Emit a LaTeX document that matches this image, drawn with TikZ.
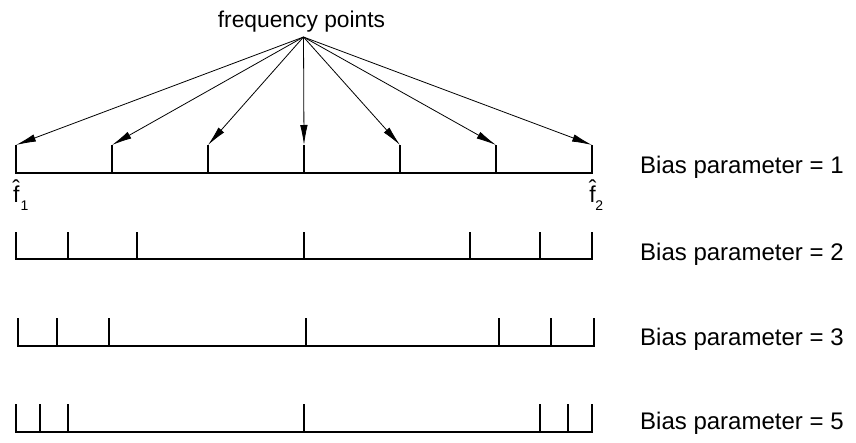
\documentclass[tikz,border=0pt]{standalone}
\usepackage{fontspec}
\setmainfont{Liberation Sans}
\usetikzlibrary{arrows.meta}
\newcommand{\hatglyph}{\raisebox{-13.2pt}[3.4pt][0pt]{ˆ}}
\begin{document}
\begin{tikzpicture}[x=1pt,y=-1pt,
  tick/.style={line width=2pt},
  ptr/.style={line width=0.8pt,-{Latex[length=20pt,width=7.5pt]}},
  biaslbl/.style={anchor=base west,inner sep=0pt,font=\fontsize{24}{26}\selectfont},
  toplbl/.style={anchor=base,inner sep=0pt,font=\fontsize{22.8}{25}\selectfont},
  flbl/.style={anchor=base west,inner sep=0pt,font=\fontsize{23}{25}\selectfont},
  hatlbl/.style={anchor=base,inner sep=0pt,font=\fontsize{23}{25}\selectfont},
  sublbl/.style={anchor=base west,inner sep=0pt,font=\fontsize{14}{16}\selectfont}]
\useasboundingbox (0,0) rectangle (856,442);
% top label and apex
\node[toplbl] (fp) at (301.5,27) {frequency points};
\coordinate (apex) at (303.5,37);
% row 1
\foreach \x [count=\i] in {16,112,208,304,400,496,592}{
  \coordinate (a\i) at (\x,145);
  \coordinate (ab\i) at (\x,173);
}
\draw[tick] (a1) -- (ab1) -- (ab7) -- (a7);
\foreach \i in {2,...,6}{\draw[tick] (a\i) -- (ab\i);}
\foreach \i in {1,...,7}{\draw[ptr] (apex) -- (a\i);}
% row 2
\foreach \x [count=\i] in {16,68,137,304,470,540,592}{
  \coordinate (b\i) at (\x,232);
  \coordinate (bb\i) at (\x,259);
}
\draw[tick] (b1) -- (bb1) -- (bb7) -- (b7);
\foreach \i in {2,...,6}{\draw[tick] (b\i) -- (bb\i);}
% row 3
\foreach \x [count=\i] in {18,57,109,306,499,551,594}{
  \coordinate (c\i) at (\x,318);
  \coordinate (cb\i) at (\x,346);
}
\draw[tick] (c1) -- (cb1) -- (cb7) -- (c7);
\foreach \i in {2,...,6}{\draw[tick] (c\i) -- (cb\i);}
% row 4
\foreach \x [count=\i] in {16,40,68,304,540,568,592}{
  \coordinate (d\i) at (\x,404);
  \coordinate (db\i) at (\x,432);
}
\draw[tick] (d1) -- (db1) -- (db7) -- (d7);
\foreach \i in {2,...,6}{\draw[tick] (d\i) -- (db\i);}
% f-hat labels
\node[flbl] (f1) at (12.8,202) {f};
\node[hatlbl] (h1) at (16.2,183) {\hatglyph};
\node[sublbl] (s1) at (20.3,210) {1};
\node[flbl] (f2) at (589.2,202) {f};
\node[hatlbl] (h2) at (592.6,183) {\hatglyph};
\node[sublbl] (s2) at (595.2,210) {2};
% bias labels
\node[biaslbl] (l1) at (640,173) {Bias parameter = 1};
\node[biaslbl] (l2) at (640,260) {Bias parameter = 2};
\node[biaslbl] (l3) at (640,345) {Bias parameter = 3};
\node[biaslbl] (l4) at (640,429) {Bias parameter = 5};
\end{tikzpicture}
\end{document}
